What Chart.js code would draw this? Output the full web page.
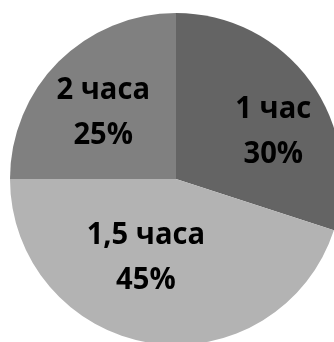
<!DOCTYPE html>
<html>
<head>
<meta charset="utf-8">
<script src="https://cdn.jsdelivr.net/npm/chart.js@4/dist/chart.umd.min.js"></script>
<style>
  html, body { margin: 0; padding: 0; background: #fff; overflow: hidden; width: 334px; height: 342px; }
  #pie { position: absolute; left: 0; top: 0; }
</style>
</head>
<body>
<canvas id="pie" width="352" height="358"></canvas>
<script>
const labels = ['1 час', '1,5 часа', '2 часа'];
const shares = [30, 45, 25];
const colors = ['#646464', '#b3b3b3', '#808080'];

// label nudges (px) relative to the point at 62% radius along the slice's mid angle
const nudge = [[14, 11], [-14, -25], [0, 5]];

const sliceLabels = {
  id: 'sliceLabels',
  afterDatasetsDraw(chart) {
    const ctx = chart.ctx;
    const meta = chart.getDatasetMeta(0);
    ctx.save();
    ctx.font = "bold 31px 'Open Sans', sans-serif";
    ctx.fillStyle = '#000';
    ctx.textAlign = 'center';
    ctx.textBaseline = 'alphabetic';
    meta.data.forEach((arc, i) => {
      const { x, y, startAngle, endAngle, outerRadius } = arc.getProps(['x', 'y', 'startAngle', 'endAngle', 'outerRadius'], true);
      const mid = (startAngle + endAngle) / 2;
      const cx = x + Math.cos(mid) * outerRadius * 0.62 + nudge[i][0];
      const cy = y + Math.sin(mid) * outerRadius * 0.62 + nudge[i][1];
      // slightly condensed, closer to the original face
      ctx.save();
      ctx.translate(cx, cy);
      ctx.scale(0.94, 1);
      ctx.fillText(labels[i], 0, -12);
      ctx.fillText(shares[i] + '%', 0, 33);
      ctx.restore();
    });
    ctx.restore();
  }
};

new Chart(document.getElementById('pie'), {
  type: 'pie',
  plugins: [sliceLabels],
  data: {
    labels,
    datasets: [{ data: shares, backgroundColor: colors, borderWidth: 0, radius: 166 }]
  },
  options: {
    responsive: false,
    animation: false,
    layout: { padding: 0 },
    plugins: { legend: { display: false }, tooltip: { enabled: false } }
  }
});
</script>
</body>
</html>
